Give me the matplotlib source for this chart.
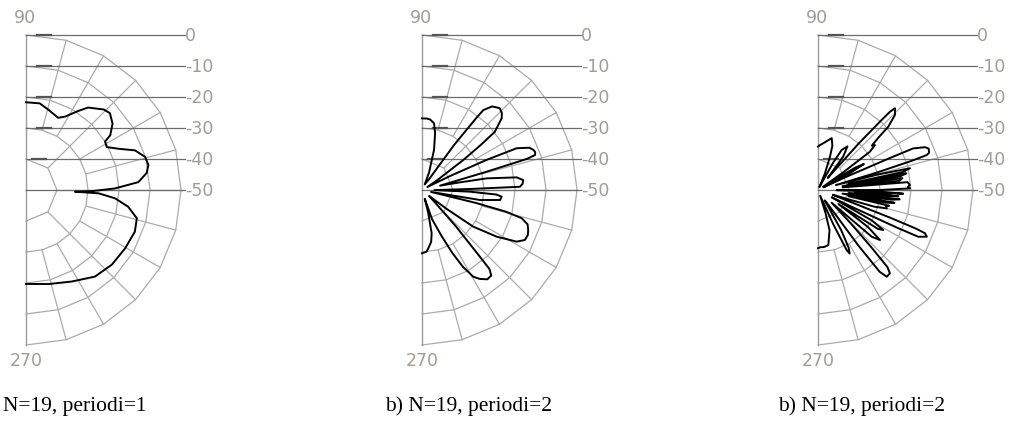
import numpy as np
import matplotlib
matplotlib.use("Agg")
import matplotlib.pyplot as plt

# Array patterns: direction in degrees (0 = broadside, to the right), level in dB
angle_p1 = [90, 81, 74, 66, 62, 56.5, 53, 46, 42.5, 37.5, 33, 31.5, 28, 24, 20,
            15.5, 11.5, 8, 4, 1, -1, -2, -2.6, -5.3, -9.3, -14.3, -21, -30.5,
            -41, -51.5, -63.5, -76.5, -90]
level_p1 = [-21.7, -21.7, -23.2, -24.5, -23.2, -19.4, -16.7, -13.9, -13.3, -14.8,
            -17.6, -20.1, -20.5, -17.3, -12.6, -10.1, -9.7, -10.7, -13.7, -21.3,
            -28.8, -34.2, -26.6, -21.2, -16.6, -13.1, -12.4, -12.9, -13.3, -14.3,
            -17.0, -18.8, -19.7]

angle_p2 = [90, 86, 83.5, 79.8, 77, 73.3, 68, 64,
            57, 54.5, 53, 52.5, 50, 46.5, 44, 42, 38.6, 37.5, 36, 33, 29,
            26.5, 25, 23.8, 21.5, 19.8, 18.5, 17.2, 16.5, 15.8, 13.5,
            11.5, 10.2, 7.6, 5.6, 3.5, 1.9, 1.2, -0.5,
            -2, -3.5, -4.8, -7.3, -9.8, -12,
            -13.5, -14.5, -15.8, -18, -20.6, -23, -25.9, -28.6, -32, -35.6, -37.5, -40,
            -44, -47, -49, -49.5, -51, -53.8, -57, -59.4, -62, -64.3, -67, -71, -72.5,
            -74.9, -77.4, -80, -83.8, -86, -90]
level_p2 = [-26.9, -26.9, -27.1, -28.1, -31.2, -36.5, -44, -48,
            -46, -32, -21, -17.5, -14.8, -13.6, -14.2, -15.4, -20, -26, -33.5, -44, -48,
            -40, -27, -16.6, -12.8, -11.8, -11.5, -11.8, -14.7, -28.3, -44,
            -38, -28.8, -19.2, -17.2, -17.5, -18.4, -34.5, -46,
            -34.5, -26, -24.2, -24.6, -31, -47,
            -32, -22, -16.6, -14.2, -13.4, -12.9, -13.1, -15.2, -21.6, -29.7, -40, -47,
            -44, -34, -22, -16.5, -14.5, -14.3, -15.8, -17.5, -22, -27.5, -34, -40, -47,
            -42.2, -35.7, -33, -31.1, -30, -29.6]

angle_p3 = [90, 87.5, 82, 75.2, 72, 70.2, 67.3, 64,
            61, 59.4, 56, 53, 51,
            49.5, 48.8, 47.8, 47.4, 46.7, 44.3, 42, 41, 39.5, 38.3, 36.4, 35, 33,
            31, 29.5, 28, 26.5,
            25, 24, 23.6, 21.8, 20.5, 18.5, 17.8, 17.3, 16.5, 15.5,
            14.5, 13.3, 12, 11.5, 10.7, 9.5, 9, 8, 6.5, 6, 5, 3.1, 2, 1, 0, -0.5,
            -1.5, -2.5, -3.5, -4.5, -5.5, -6.5, -7.5, -8.5, -9.5, -10.5, -11.5,
            -12.5, -13.5, -15, -16.5, -18,
            -20, -21, -21.5, -22, -23.2, -25, -25.5, -26.5,
            -28, -29.5, -31.5, -33, -34.5, -36.5, -38.9, -41, -43,
            -45.5, -47, -48, -49.2, -51.6, -53, -54, -55,
            -57, -60, -62, -63.5, -64.5, -66, -69,
            -72, -74, -79.4, -84, -88, -90]
level_p3 = [-36, -35.5, -34.5, -32.7, -35, -38.6, -44.2, -49,
            -40, -35, -33, -36.5, -45,
            -40, -30, -20, -15.7, -13.8, -15.3, -19.5, -24, -27.5, -26.6, -29.2, -40, -48,
            -36, -33, -38, -48,
            -40, -25, -16.5, -12.8, -11.9, -12.2, -13.2, -18.5, -30, -44,
            -30, -19.5, -22, -40, -21, -23, -42, -22.5, -23.5, -42, -21, -20.3, -21, -20.3, -30, -44,
            -30, -22.5, -38, -24, -40, -23.5, -26, -42, -25, -27.5, -40,
            -26.5, -27.5, -27, -31, -45,
            -40, -25, -16, -12.8, -11.8, -14.3, -22, -38,
            -45, -30, -25.3, -27, -42, -30, -24.3, -27, -44,
            -35, -25, -16.5, -14.5, -14.3, -17, -28, -44,
            -46, -35, -29, -27.1, -28.5, -38, -48,
            -42, -36.5, -31.9, -31.5, -31.5, -31.2]

patterns = [(angle_p1, level_p1), (angle_p2, level_p2), (angle_p3, level_p3)]
captions = ["N=19, periodi=1", "b) N=19, periodi=2", "b) N=19, periodi=2"]
level_ticks = [0, -10, -20, -30, -40, -50]
r_min, r_max = -50, 0

W, H = 1015, 432
fig = plt.figure(figsize=(W / 100, H / 100), dpi=100)

grid_c = "#ababab"
line_c = "#6b6b6b"
label_c = "#a29c96"
label_font = dict(family="DejaVu Sans", fontsize=12.5, color=label_c)

panel_left = [26, 422, 818]
caption_left = [3, 385, 778]
R = 155          # outer radius in pixels
cy = 190         # vertical position of the pole (from the top)

for cx, (ang, lev), cap, cap_x in zip(panel_left, patterns, captions, caption_left):
    # full polar frame centred on the pole; only the right half is drawn into
    ax = fig.add_axes([(cx - R) / W, (H - cy - R) / H, 2 * R / W, 2 * R / H],
                      projection="polar")
    ax.set_ylim(r_min, r_max)
    ax.grid(False)
    ax.set_xticks([])
    ax.set_yticks([])
    for sp in ax.spines.values():
        sp.set_visible(False)
    ax.patch.set_visible(False)

    # polygonal rings
    for lvl in level_ticks[:-1]:
        step = 45 if lvl == -40 else 15
        th = np.deg2rad(np.arange(-90, 91, step))
        ax.plot(th, np.full(th.shape, lvl), color=grid_c, lw=0.9,
                clip_on=False, zorder=1)
    # spokes
    for a in range(-75, 90, 15):
        start = -40 if a % 45 == 0 else -30
        ax.plot([np.deg2rad(a)] * 2, [start, r_max], color=grid_c, lw=0.9,
                clip_on=False, zorder=1)
    # vertical axis through the pole
    for t in (np.pi / 2, -np.pi / 2):
        ax.plot([t, t], [r_max, r_min], color="#9c9c9c", lw=1.0,
                clip_on=False, zorder=2)

    # level lines with their labels
    for lvl in level_ticks:
        y = 0.5 + 0.5 * (lvl - r_min) / (r_max - r_min)
        ax.plot([0.5, 0.5 + 0.5 * 1.025], [y, y], transform=ax.transAxes,
                color=line_c, lw=0.9, clip_on=False, zorder=3)
        if lvl != -50:
            x0 = 0.02 if lvl == -40 else 0.035
            ax.plot([0.5 + x0, 0.5 + x0 + 0.045], [y, y], transform=ax.transAxes,
                    color="#555555", lw=1.6, clip_on=False, zorder=3)
        ax.text(0.5 + 0.5 * 1.027, y - 0.002, f"{lvl}", transform=ax.transAxes,
                ha="left", va="center", **label_font)

    ax.text(0.495, 1 + 8 / (2 * R), "90", transform=ax.transAxes,
            ha="center", va="bottom", **label_font)
    ax.text(0.5, -7 / (2 * R), "270", transform=ax.transAxes,
            ha="center", va="top", **label_font)

    ax.plot(np.deg2rad(ang), np.maximum(lev, r_min), color="black", lw=1.4,
            clip_on=False, zorder=5)

    fig.text(cap_x / W, (H - 411) / H, cap, ha="left", va="baseline",
             family="Liberation Serif", fontsize=15.5, color="black")

fig.savefig("out.png", dpi=100)
